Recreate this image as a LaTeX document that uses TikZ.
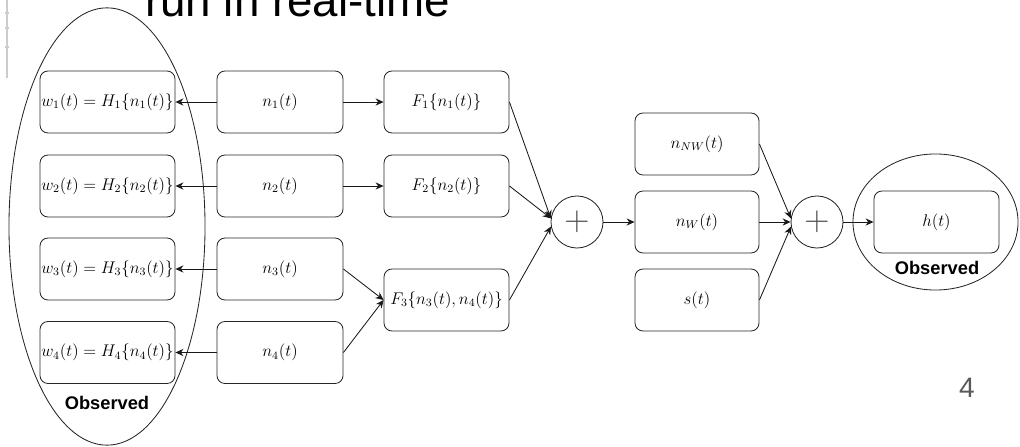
\documentclass[tikz,border=0pt]{standalone}
\usepackage{amsmath,amssymb}
\usepackage{fontspec}
\newfontfamily\slidefont{Liberation Sans}
\usepackage{tikz}
\usetikzlibrary{arrows.meta,positioning,shapes.geometric}

\begin{document}
\begin{tikzpicture}[x=0.025cm, y=-0.025cm,
    box/.style={draw=black!85, line width=0.6pt, rounded corners=0.2cm,
        minimum height=1.55cm, inner sep=1pt, font=\fontsize{11.5}{13}\selectfont},
    sumnode/.style={draw=black!85, line width=0.6pt, circle, minimum size=1.3cm,
        inner sep=0pt, text=black!70, font=\fontsize{23}{24}\selectfont},
    obsring/.style={draw=black!85, line width=0.6pt, ellipse, inner sep=0pt},
    obslabel/.style={font=\slidefont\bfseries\fontsize{13}{15}\selectfont},
    arr/.style={line width=0.6pt, black!90, -{Stealth[length=2mm, width=1.8mm]}}]
    \useasboundingbox (0,0) rectangle (1020,447);
    \clip (0,0) rectangle (1020,447);

    % Slide title (cut off at the top) and page number
    \node[anchor=base west, inner sep=0pt, font=\slidefont\fontsize{32.5}{34}\selectfont] (title) at (145,16) {run in real-time};
    \node[text=black!65, font=\slidefont\fontsize{20}{22}\selectfont] (page) at (967,388) {4};
    \draw[black!20, line width=0.8pt] (7,0) -- (7,78);
    \foreach \t in {13, 28, 47} {
        \draw[black!20, line width=0.8pt] (5,\t) -- (9,\t);
    }

    % Observed region on the left
    \node[obsring, minimum width=4.9cm, minimum height=10.93cm] (obsleft) at (107,226.5) {};
    \node[obslabel] (obsleftlabel) at (107,403) {Observed};

    % Sensor rows
    \foreach \i/\y in {1/102, 2/186, 3/269, 4/352.5} {
        \node[box, minimum width=3.375cm] (w\i) at (107.5,\y) {$w_\i(t) = H_\i\{n_\i(t)\}$};
        \node[box, minimum width=3.15cm] (n\i) at (280,\y) {$n_\i(t)$};
        \draw[arr] (n\i) -- (w\i);
    }

    % Coupling functions
    \node[box, minimum width=3.125cm] (f1) at (446.5,102) {$F_1\{n_1(t)\}$};
    \node[box, minimum width=3.125cm] (f2) at (446.5,186) {$F_2\{n_2(t)\}$};
    \node[box, minimum width=3.125cm] (f3) at (446.5,300) {$F_3\{n_3(t), n_4(t)\}$};
    \draw[arr] (n1) -- (f1);
    \draw[arr] (n2) -- (f2);
    \draw[arr] (n3.east) -- (f3.west);
    \draw[arr] (n4.east) -- (f3.west);

    % First sum
    \node[sumnode] (sum1) at (577,222) {$+$};
    \draw[arr] (f1.east) -- (sum1.172);
    \draw[arr] (f2.east) -- (sum1.172);
    \draw[arr] (f3.east) -- (sum1.190);

    % Noise and signal
    \node[box, minimum width=3.1cm] (nnw) at (697,144) {$n_{NW}(t)$};
    \node[box, minimum width=3.1cm] (nw) at (697,222) {$n_W(t)$};
    \node[box, minimum width=3.1cm] (sig) at (697,300) {$s(t)$};
    \draw[arr] (sum1) -- (nw);

    % Second sum
    \node[sumnode] (sum2) at (817,222) {$+$};
    \draw[arr] (nnw.east) -- (sum2.172);
    \draw[arr] (nw) -- (sum2);
    \draw[arr] (sig.east) -- (sum2.190);

    % Observed output
    \node[obsring, minimum width=4.125cm, minimum height=3.4cm] (obsright) at (935.5,222) {};
    \node[box, minimum width=3.125cm] (h) at (936.5,222) {$h(t)$};
    \node[obslabel] (obsrightlabel) at (937,268) {Observed};
    \draw[arr] (sum2) -- (h);
\end{tikzpicture}
\end{document}
